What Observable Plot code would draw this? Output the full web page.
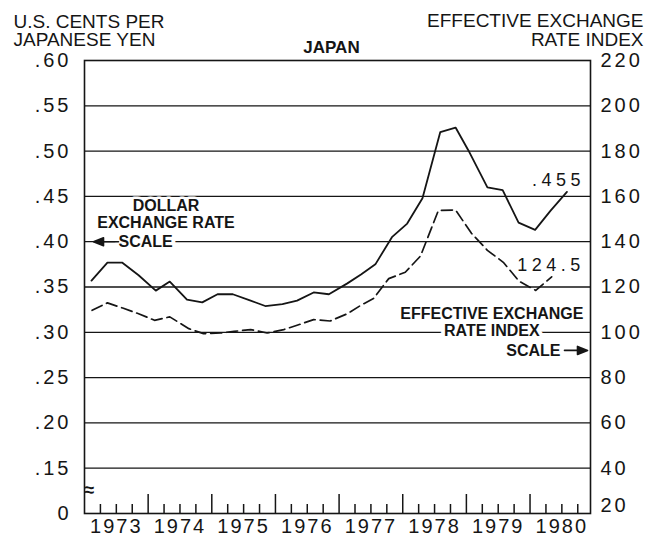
<!DOCTYPE html>
<html><head><meta charset="utf-8">
<script src="https://cdn.jsdelivr.net/npm/d3@7"></script>
<script src="https://cdn.jsdelivr.net/npm/@observablehq/plot@0.6"></script>
<style>
html,body{margin:0;padding:0;background:#fff;}
#chart svg [aria-label="y-axis tick label"] text{letter-spacing:3px;}
#chart svg [aria-label="x-axis tick label"] text{letter-spacing:2px;}
</style></head>
<body><div id="chart"></div>
<script>
// ---- data ----
const dollarDates = [1973.11,1973.36,1973.59,1973.85,1974.12,1974.34,1974.61,1974.85,1975.09,1975.33,1975.61,1975.84,1976.11,1976.34,1976.60,1976.84,1977.13,1977.35,1977.57,1977.83,1978.07,1978.31,1978.59,1978.83,1979.03,1979.33,1979.57,1979.82,1980.08,1980.32,1980.58];
const dollarRate  = [0.357,0.377,0.377,0.363,0.346,0.356,0.336,0.333,0.342,0.342,0.335,0.329,0.331,0.335,0.344,0.342,0.354,0.364,0.375,0.405,0.420,0.448,0.521,0.526,0.501,0.460,0.457,0.421,0.413,0.434,0.455];
const effDates = [1973.12,1973.36,1973.60,1973.85,1974.10,1974.34,1974.64,1974.87,1975.14,1975.35,1975.61,1975.87,1976.13,1976.34,1976.60,1976.86,1977.13,1977.34,1977.54,1977.78,1978.04,1978.28,1978.56,1978.83,1979.08,1979.33,1979.58,1979.83,1980.09,1980.34];
const effIndex = [109.7,113.0,110.7,108.2,105.3,106.8,101.6,99.4,99.7,100.4,101.2,99.7,101.2,103.1,105.6,105.0,108.2,111.9,114.9,123.7,126.5,133.7,153.8,154.0,143.7,136.2,130.9,122.5,118.5,124.5];

const leftTicks = [0.60,0.55,0.50,0.45,0.40,0.35,0.30,0.25,0.20,0.15,0.10];
const leftTickLabels = [".60",".55",".50",".45",".40",".35",".30",".25",".20",".15","0"];
const gridValues = [0.55,0.50,0.45,0.40,0.35,0.30,0.25,0.20,0.15];
const rightTicks = [220,200,180,160,140,120,100,80,60,40];
const rightBottomTick = 20;
const years = [1973,1974,1975,1976,1977,1978,1979,1980];
const majorTicks = [1974,1975,1976,1977,1978,1979,1980];
const minorTicks = years.flatMap(y => [y + 0.25, y + 0.5, y + 0.75]);

const title = "JAPAN";
const leftTitle = "U.S. CENTS PER\nJAPANESE YEN";
const rightTitle = "EFFECTIVE EXCHANGE\nRATE INDEX";
const dollarNote = "DOLLAR\nEXCHANGE RATE";
const effNote = "EFFECTIVE EXCHANGE\nRATE INDEX";
const scaleWord = "SCALE";
const breakSymbol = "≈";

// right scale (index) expressed on the left scale (cents/yen)
const toLeft = r => (r + 20) / 400;

const dollar = dollarDates.map((d, i) => ({date: d, value: dollarRate[i]}));
const eff = effDates.map((d, i) => ({date: d, value: effIndex[i]}));
const lastDollar = dollar[dollar.length - 1];
const lastEff = eff[eff.length - 1];

const W = 656, H = 536, mL = 84, mR = 66, mT = 60, mB = 23;
const plotH = H - mT - mB;
const ink = "#151515";
const font = "'Liberation Sans', Arial, sans-serif";

const arrowShape = {
  draw(ctx, l) {
    ctx.moveTo(0, 0); ctx.lineTo(0, -l + 8);
    ctx.moveTo(0, -l); ctx.lineTo(-4, -l + 10); ctx.lineTo(4, -l + 10); ctx.closePath();
  }
};

const chart = Plot.plot({
  width: W, height: H,
  marginLeft: mL, marginRight: mR, marginTop: mT, marginBottom: mB,
  x: {domain: [1973, 1980.95], label: null},
  y: {domain: [0.10, 0.60], label: null},
  style: {fontFamily: font, color: ink, background: "#fff", overflow: "visible"},
  marks: [
    Plot.ruleY(gridValues, {stroke: ink, strokeWidth: 1.3}),
    Plot.frame({stroke: ink, strokeWidth: 1.6}),
    Plot.tickX(minorTicks, {x: d => d, insetTop: plotH - 9, stroke: ink, strokeWidth: 1.5}),
    Plot.tickX(majorTicks, {x: d => d, insetTop: plotH - 19, stroke: ink, strokeWidth: 1.5}),
    Plot.line(eff, {x: "date", y: d => toLeft(d.value), stroke: ink, strokeWidth: 1.7, strokeDasharray: "11,5"}),
    Plot.line(dollar, {x: "date", y: "value", stroke: ink, strokeWidth: 1.8}),
    // axes
    Plot.axisY(leftTicks, {anchor: "left", label: null, tickSize: 0, tickPadding: 13, fontSize: 20,
      tickFormat: d => leftTickLabels[leftTicks.indexOf(d)]}),
    Plot.axisY(rightTicks.map(toLeft), {anchor: "right", label: null, tickSize: 0, tickPadding: 10, fontSize: 20,
      tickFormat: d => String(rightTicks[rightTicks.map(toLeft).indexOf(d)])}),
    Plot.axisY([toLeft(rightBottomTick)], {anchor: "right", label: null, tickSize: 0, tickPadding: 10, fontSize: 20, dy: -8,
      tickFormat: () => String(rightBottomTick)}),
    Plot.axisX(years.map(y => y + 0.5), {anchor: "bottom", label: null, tickSize: 0, tickPadding: 5, fontSize: 20,
      tickFormat: d => String(Math.floor(d))}),
    // break symbol on the left axis
    Plot.text([breakSymbol], {text: d => d, frameAnchor: "left", y: [0.126], fontSize: 18, fontWeight: "bold", fill: ink}),
    // titles
    Plot.text([title], {text: d => d, frameAnchor: "top", dx: -6, dy: -8, lineAnchor: "bottom", fontSize: 17, fontWeight: "bold", fill: ink}),
    Plot.text([leftTitle], {text: d => d, frameAnchor: "top-left", dx: -71, dy: -15, textAnchor: "start", lineAnchor: "bottom", lineHeight: 0.9, fontSize: 19, fill: ink}),
    Plot.text([rightTitle], {text: d => d, frameAnchor: "top-right", dx: 53, dy: -15, textAnchor: "end", lineAnchor: "bottom", lineHeight: 0.95, fontSize: 19, fill: ink}),
    // annotations
    Plot.text([dollarNote], {text: d => d, x: [1974.28], y: [0.4307], lineAnchor: "middle", lineHeight: 1.06, fontSize: 16, fontWeight: "bold", fill: ink, stroke: "#fff", strokeWidth: 5}),
    Plot.text([scaleWord], {text: d => d, frameAnchor: "left", y: [0.40], dx: 34, textAnchor: "start", fontSize: 16, fontWeight: "bold", fill: ink, stroke: "#fff", strokeWidth: 8}),
    Plot.vector([0.40], {y: d => d, frameAnchor: "left", dx: 34, length: 25, rotate: -90, anchor: "start", shape: arrowShape, stroke: ink, fill: ink, strokeWidth: 1.6}),
    Plot.text([effNote], {text: d => d, x: [1979.4], y: [0.3116], lineAnchor: "middle", lineHeight: 1.06, fontSize: 16, fontWeight: "bold", fill: ink, stroke: "#fff", strokeWidth: 8}),
    Plot.text([scaleWord], {text: d => d, frameAnchor: "right", y: [0.28], dx: -30, textAnchor: "end", fontSize: 16, fontWeight: "bold", fill: ink, stroke: "#fff", strokeWidth: 6}),
    Plot.vector([0.28], {y: d => d, frameAnchor: "right", dx: -26, length: 23, rotate: 90, anchor: "start", shape: arrowShape, stroke: ink, fill: ink, strokeWidth: 1.6}),
    // end values
    Plot.text([lastDollar], {x: "date", y: "value", text: d => d3.format(".3f")(d.value).replace(/^0/, ""), textAnchor: "end", dx: 18, dy: -12, fontSize: 18, fill: ink}),
    Plot.text([lastEff], {x: "date", y: d => toLeft(d.value), text: d => String(d.value), textAnchor: "end", dx: 33, dy: -12, fontSize: 18, fill: ink})
  ]
});

const vals = new Set([d3.format(".3f")(lastDollar.value).replace(/^0/, ""), String(lastEff.value)]);
d3.select(chart).selectAll("text").filter(function() { return vals.has(this.textContent); }).attr("letter-spacing", 4.5);
document.getElementById("chart").appendChild(chart);
</script>
</body></html>
